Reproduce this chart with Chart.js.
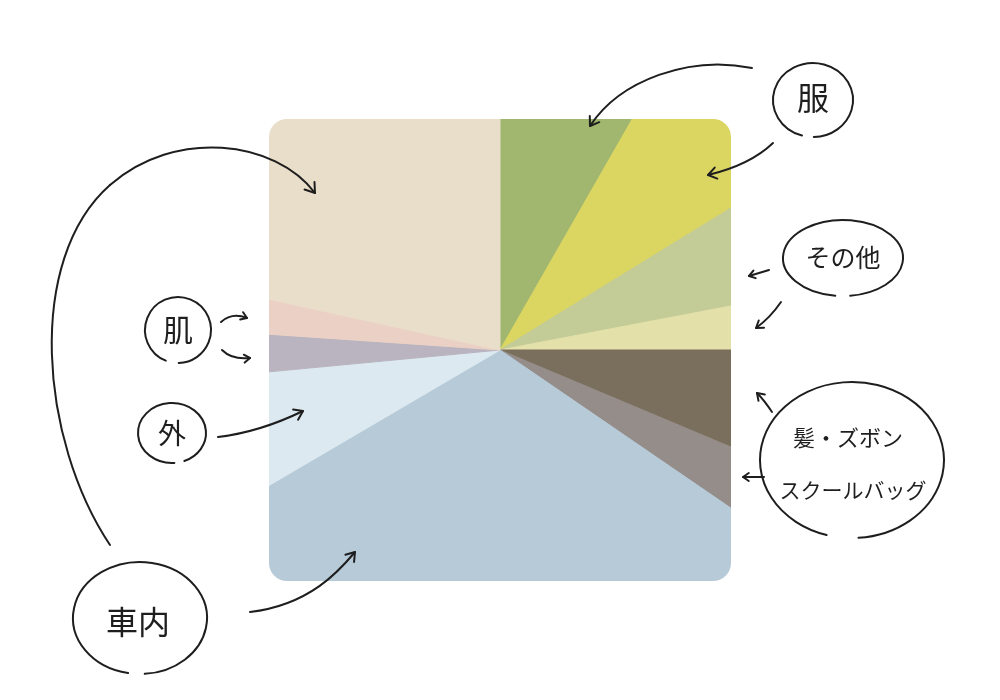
<!DOCTYPE html>
<html>
<head>
<meta charset="utf-8">
<script src="https://cdn.jsdelivr.net/npm/chart.js@4"></script>
<style>
  html, body { margin: 0; padding: 0; background: #fff; }
  #wrap { width: 1000px; height: 700px; position: relative; }
</style>
</head>
<body>
<div id="wrap"><canvas id="pie"></canvas></div>
<script>
// slices clockwise from 12 o'clock (values in degrees of sweep)
const groups = ["服", "服", "その他", "その他", "髪・ズボン", "スクールバッグ", "車内", "外", "肌", "肌", "車内"];
const sweep = [29.8, 28.6, 20.8, 10.8, 22.8, 11.6, 115.2, 25.0, 9.3, 8.5, 77.6];
const colors = ["#a1b66f", "#dbd662", "#c3cb96", "#e4e0aa", "#7a6f5d", "#958d89",
                "#b7cad8", "#dce9f0", "#b9b4bf", "#ebd1c5", "#e9dec9"];

const HALF = 231;   // half side of the square window
const CORNER = 18;

const context = document.getElementById("pie").getContext("2d");

// clip the pie to a rounded square around its centre
const squareClip = {
  id: "squareClip",
  beforeDatasetsDraw(chart) {
    const arc = chart.getDatasetMeta(0).data[0];
    const c = chart.ctx;
    c.save();
    c.beginPath();
    c.roundRect(arc.x - HALF, arc.y - HALF, HALF * 2, HALF * 2, CORNER);
    c.clip();
  },
  afterDatasetsDraw(chart) {
    chart.ctx.restore();
  }
};

// hand drawn notes around the chart
function loop(c, x, y, rx, ry, gapFrom, gapTo) {
  c.beginPath();
  c.ellipse(x, y, rx, ry, 0, gapTo, gapFrom + Math.PI * 2);
  c.stroke();
}

function stroke(c, pts) {
  c.beginPath();
  c.moveTo(pts[0], pts[1]);
  if (pts.length === 4) c.lineTo(pts[2], pts[3]);
  else if (pts.length === 6) c.quadraticCurveTo(pts[2], pts[3], pts[4], pts[5]);
  else c.bezierCurveTo(pts[2], pts[3], pts[4], pts[5], pts[6], pts[7]);
  c.stroke();
}

function arrow(c, pts, h) {
  stroke(c, pts);
  const n = pts.length;
  const ex = pts[n - 2], ey = pts[n - 1];
  const ang = Math.atan2(ey - pts[n - 3], ex - pts[n - 4]);
  c.beginPath();
  c.moveTo(ex - h * Math.cos(ang - 0.6), ey - h * Math.sin(ang - 0.6));
  c.lineTo(ex, ey);
  c.lineTo(ex - h * Math.cos(ang + 0.6), ey - h * Math.sin(ang + 0.6));
  c.stroke();
}

function note(c, text, x, y, size) {
  c.font = "400 " + size + "px 'Noto Sans CJK JP'";
  c.textAlign = "center";
  c.textBaseline = "middle";
  c.fillText(text, x, y);
}

const notes = {
  id: "notes",
  afterDraw(chart) {
    const c = chart.ctx;
    c.save();
    c.strokeStyle = "#1e1e1e";
    c.fillStyle = "#1e1e1e";
    c.lineWidth = 2;
    c.lineCap = "round";
    c.lineJoin = "round";

    // 服
    loop(c, 813, 100, 40, 37, 1.55, 1.85);
    note(c, "服", 813, 98, 32);
    arrow(c, [752, 68, 690, 55, 620, 80, 590, 126], 10);
    arrow(c, [773, 143, 750, 165, 708, 175], 10);

    // その他
    loop(c, 843, 258, 60, 38, 1.45, 1.7);
    note(c, "その他", 843, 257, 25);
    arrow(c, [769, 270, 749, 276], 7);
    arrow(c, [781, 302, 770, 318, 756, 328], 8);

    // 髪・ズボン / スクールバッグ
    loop(c, 852, 460, 92, 78, 1.5, 1.85);
    note(c, "髪・ズボン", 848, 438, 22);
    note(c, "スクールバッグ", 853, 490, 21);
    arrow(c, [772, 412, 764, 400, 757, 393], 8);
    arrow(c, [764, 477, 743, 477], 7);

    // 肌
    loop(c, 178, 330, 33, 33, 1.55, 1.95);
    note(c, "肌", 178, 330, 30);
    arrow(c, [221, 322, 232, 312, 247, 318], 7);
    arrow(c, [222, 350, 232, 360, 250, 358], 7);

    // 外
    loop(c, 172, 433, 34, 30, 1.2, 1.5);
    note(c, "外", 172, 433, 28);
    arrow(c, [218, 437, 260, 432, 303, 411], 10);

    // 車内
    loop(c, 140, 618, 67, 56, 1.5, 1.75);
    note(c, "車内", 138, 622, 32);
    arrow(c, [250, 612, 310, 605, 340, 570, 355, 552], 10);
    stroke(c, [110, 545, 40, 440, 25, 260, 110, 185]);
    arrow(c, [110, 185, 175, 128, 275, 140, 315, 193], 11);

    c.restore();
  }
};

new Chart(context, {
  type: "pie",
  data: {
    labels: groups,
    datasets: [{
      data: sweep,
      backgroundColor: colors,
      borderColor: colors,
      borderWidth: 1
    }]
  },
  options: {
    responsive: true,
    maintainAspectRatio: false,
    animation: false,
    layout: { padding: 0 },
    plugins: {
      legend: { display: false },
      tooltip: { enabled: false }
    }
  },
  plugins: [squareClip, notes]
});
</script>
</body>
</html>
